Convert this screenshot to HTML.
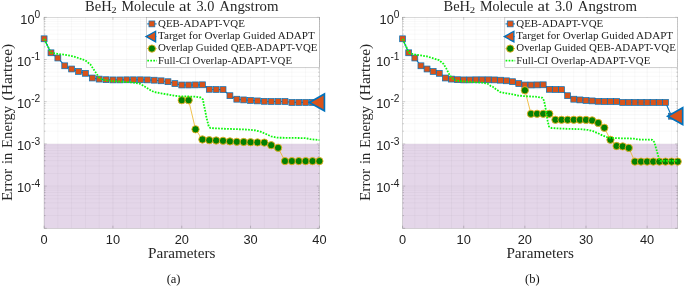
<!DOCTYPE html>
<html>
<head>
<meta charset="utf-8">
<title>BeH2 Molecule at 3.0 Angstrom</title>
<style>
html,body{margin:0;padding:0;background:#fff;}
body{width:685px;height:286px;overflow:hidden;font-family:"Liberation Sans",sans-serif;}
svg{display:block;}
text{filter:grayscale(1);}
.lg{font-family:"Liberation Serif",serif;font-size:11px;fill:#222;}
.ti{font-family:"Liberation Serif",serif;font-size:15.2px;fill:#262626;}
.ts{font-family:"Liberation Serif",serif;font-size:9.2px;fill:#262626;}
.lb{font-family:"Liberation Serif",serif;font-size:15.2px;fill:#262626;}
.tk{font-family:"Liberation Sans",sans-serif;font-size:12.8px;fill:#222;}
.cap{font-family:"Liberation Serif",serif;font-size:12.5px;fill:#111;}
</style>
</head>
<body>
<svg width="685" height="286" viewBox="0 0 685 286">
<rect width="685" height="286" fill="#fff"/>
<g id="chart-a">
<rect x="44.1" y="17.3" width="275.3" height="211" fill="#fff"/>
<rect x="44.1" y="143.9" width="275.3" height="84.4" fill="#e4d6e9"/>
<path d="M57.86 17.3V228.3M71.63 17.3V228.3M85.39 17.3V228.3M99.16 17.3V228.3M126.69 17.3V228.3M140.45 17.3V228.3M154.22 17.3V228.3M167.98 17.3V228.3M195.51 17.3V228.3M209.28 17.3V228.3M223.04 17.3V228.3M236.81 17.3V228.3M264.34 17.3V228.3M278.1 17.3V228.3M291.87 17.3V228.3M305.63 17.3V228.3M44.1 46.8H319.4M44.1 39.37H319.4M44.1 34.09H319.4M44.1 30H319.4M44.1 26.66H319.4M44.1 23.84H319.4M44.1 21.39H319.4M44.1 19.23H319.4M44.1 89H319.4M44.1 81.57H319.4M44.1 76.29H319.4M44.1 72.2H319.4M44.1 68.86H319.4M44.1 66.04H319.4M44.1 63.59H319.4M44.1 61.43H319.4M44.1 131.2H319.4M44.1 123.77H319.4M44.1 118.49H319.4M44.1 114.4H319.4M44.1 111.06H319.4M44.1 108.24H319.4M44.1 105.79H319.4M44.1 103.63H319.4M44.1 173.4H319.4M44.1 165.97H319.4M44.1 160.69H319.4M44.1 156.6H319.4M44.1 153.26H319.4M44.1 150.44H319.4M44.1 147.99H319.4M44.1 145.83H319.4M44.1 215.6H319.4M44.1 208.17H319.4M44.1 202.89H319.4M44.1 198.8H319.4M44.1 195.46H319.4M44.1 192.64H319.4M44.1 190.19H319.4M44.1 188.03H319.4" stroke="#000" stroke-opacity="0.052" stroke-width="0.6" fill="none"/>
<path d="M112.92 17.3V228.3M181.75 17.3V228.3M250.57 17.3V228.3M44.1 59.5H319.4M44.1 101.7H319.4M44.1 143.9H319.4M44.1 186.1H319.4" stroke="#000" stroke-opacity="0.07" stroke-width="0.6" fill="none"/>
<path d="M44.1 228.3v-2.6M44.1 17.3v2.6M112.92 228.3v-2.6M112.92 17.3v2.6M181.75 228.3v-2.6M181.75 17.3v2.6M250.57 228.3v-2.6M250.57 17.3v2.6M319.4 228.3v-2.6M319.4 17.3v2.6M44.1 17.3h2.6M319.4 17.3h-2.6M44.1 59.5h2.6M319.4 59.5h-2.6M44.1 101.7h2.6M319.4 101.7h-2.6M44.1 143.9h2.6M319.4 143.9h-2.6M44.1 186.1h2.6M319.4 186.1h-2.6M44.1 228.3h2.6M319.4 228.3h-2.6M44.1 46.8h1.4M319.4 46.8h-1.4M44.1 39.37h1.4M319.4 39.37h-1.4M44.1 34.09h1.4M319.4 34.09h-1.4M44.1 30h1.4M319.4 30h-1.4M44.1 26.66h1.4M319.4 26.66h-1.4M44.1 23.84h1.4M319.4 23.84h-1.4M44.1 21.39h1.4M319.4 21.39h-1.4M44.1 19.23h1.4M319.4 19.23h-1.4M44.1 89h1.4M319.4 89h-1.4M44.1 81.57h1.4M319.4 81.57h-1.4M44.1 76.29h1.4M319.4 76.29h-1.4M44.1 72.2h1.4M319.4 72.2h-1.4M44.1 68.86h1.4M319.4 68.86h-1.4M44.1 66.04h1.4M319.4 66.04h-1.4M44.1 63.59h1.4M319.4 63.59h-1.4M44.1 61.43h1.4M319.4 61.43h-1.4M44.1 131.2h1.4M319.4 131.2h-1.4M44.1 123.77h1.4M319.4 123.77h-1.4M44.1 118.49h1.4M319.4 118.49h-1.4M44.1 114.4h1.4M319.4 114.4h-1.4M44.1 111.06h1.4M319.4 111.06h-1.4M44.1 108.24h1.4M319.4 108.24h-1.4M44.1 105.79h1.4M319.4 105.79h-1.4M44.1 103.63h1.4M319.4 103.63h-1.4M44.1 173.4h1.4M319.4 173.4h-1.4M44.1 165.97h1.4M319.4 165.97h-1.4M44.1 160.69h1.4M319.4 160.69h-1.4M44.1 156.6h1.4M319.4 156.6h-1.4M44.1 153.26h1.4M319.4 153.26h-1.4M44.1 150.44h1.4M319.4 150.44h-1.4M44.1 147.99h1.4M319.4 147.99h-1.4M44.1 145.83h1.4M319.4 145.83h-1.4M44.1 215.6h1.4M319.4 215.6h-1.4M44.1 208.17h1.4M319.4 208.17h-1.4M44.1 202.89h1.4M319.4 202.89h-1.4M44.1 198.8h1.4M319.4 198.8h-1.4M44.1 195.46h1.4M319.4 195.46h-1.4M44.1 192.64h1.4M319.4 192.64h-1.4M44.1 190.19h1.4M319.4 190.19h-1.4M44.1 188.03h1.4M319.4 188.03h-1.4" stroke="#000" stroke-opacity="0.35" stroke-width="0.5" fill="none"/>
<rect x="44.1" y="17.3" width="275.3" height="211" fill="none" stroke="#000" stroke-opacity="0.25" stroke-width="0.6"/>
<polyline points="44.1,38.8 50.98,52.8 57.86,58 64.75,65.8 71.63,69 78.51,71.4 85.39,73.3 92.28,78 99.16,79.1 106.04,79.7 112.92,79.9 119.81,79.9 126.69,79.8 133.57,79.8 140.45,79.8 147.34,79.9 154.22,80.2 161.1,80.8 167.98,81.7 174.87,83.6 181.75,85 188.63,85 195.51,84.9 202.4,84.8 209.28,89.3 216.16,89.5 223.04,89.6 229.93,95.7 236.81,99.2 243.69,99.9 250.57,100.4 257.46,100.9 264.34,101.3 271.22,101.5 278.1,101.5 284.99,101.5 291.87,102.4 298.75,102.4 305.63,102.4 312.52,102.4 319.4,102.4" fill="none" stroke="#0072BD" stroke-width="1.1"/>
<rect x="41.15" y="35.85" width="5.9" height="5.9" fill="#D95319" stroke="#0072BD" stroke-width="0.7"/>
<rect x="48.03" y="49.85" width="5.9" height="5.9" fill="#D95319" stroke="#0072BD" stroke-width="0.7"/>
<rect x="54.91" y="55.05" width="5.9" height="5.9" fill="#D95319" stroke="#0072BD" stroke-width="0.7"/>
<rect x="61.8" y="62.85" width="5.9" height="5.9" fill="#D95319" stroke="#0072BD" stroke-width="0.7"/>
<rect x="68.68" y="66.05" width="5.9" height="5.9" fill="#D95319" stroke="#0072BD" stroke-width="0.7"/>
<rect x="75.56" y="68.45" width="5.9" height="5.9" fill="#D95319" stroke="#0072BD" stroke-width="0.7"/>
<rect x="82.44" y="70.35" width="5.9" height="5.9" fill="#D95319" stroke="#0072BD" stroke-width="0.7"/>
<rect x="89.33" y="75.05" width="5.9" height="5.9" fill="#D95319" stroke="#0072BD" stroke-width="0.7"/>
<rect x="96.21" y="76.15" width="5.9" height="5.9" fill="#D95319" stroke="#0072BD" stroke-width="0.7"/>
<rect x="103.09" y="76.75" width="5.9" height="5.9" fill="#D95319" stroke="#0072BD" stroke-width="0.7"/>
<rect x="109.97" y="76.95" width="5.9" height="5.9" fill="#D95319" stroke="#0072BD" stroke-width="0.7"/>
<rect x="116.86" y="76.95" width="5.9" height="5.9" fill="#D95319" stroke="#0072BD" stroke-width="0.7"/>
<rect x="123.74" y="76.85" width="5.9" height="5.9" fill="#D95319" stroke="#0072BD" stroke-width="0.7"/>
<rect x="130.62" y="76.85" width="5.9" height="5.9" fill="#D95319" stroke="#0072BD" stroke-width="0.7"/>
<rect x="137.5" y="76.85" width="5.9" height="5.9" fill="#D95319" stroke="#0072BD" stroke-width="0.7"/>
<rect x="144.39" y="76.95" width="5.9" height="5.9" fill="#D95319" stroke="#0072BD" stroke-width="0.7"/>
<rect x="151.27" y="77.25" width="5.9" height="5.9" fill="#D95319" stroke="#0072BD" stroke-width="0.7"/>
<rect x="158.15" y="77.85" width="5.9" height="5.9" fill="#D95319" stroke="#0072BD" stroke-width="0.7"/>
<rect x="165.03" y="78.75" width="5.9" height="5.9" fill="#D95319" stroke="#0072BD" stroke-width="0.7"/>
<rect x="171.92" y="80.65" width="5.9" height="5.9" fill="#D95319" stroke="#0072BD" stroke-width="0.7"/>
<rect x="178.8" y="82.05" width="5.9" height="5.9" fill="#D95319" stroke="#0072BD" stroke-width="0.7"/>
<rect x="185.68" y="82.05" width="5.9" height="5.9" fill="#D95319" stroke="#0072BD" stroke-width="0.7"/>
<rect x="192.56" y="81.95" width="5.9" height="5.9" fill="#D95319" stroke="#0072BD" stroke-width="0.7"/>
<rect x="199.45" y="81.85" width="5.9" height="5.9" fill="#D95319" stroke="#0072BD" stroke-width="0.7"/>
<rect x="206.33" y="86.35" width="5.9" height="5.9" fill="#D95319" stroke="#0072BD" stroke-width="0.7"/>
<rect x="213.21" y="86.55" width="5.9" height="5.9" fill="#D95319" stroke="#0072BD" stroke-width="0.7"/>
<rect x="220.09" y="86.65" width="5.9" height="5.9" fill="#D95319" stroke="#0072BD" stroke-width="0.7"/>
<rect x="226.98" y="92.75" width="5.9" height="5.9" fill="#D95319" stroke="#0072BD" stroke-width="0.7"/>
<rect x="233.86" y="96.25" width="5.9" height="5.9" fill="#D95319" stroke="#0072BD" stroke-width="0.7"/>
<rect x="240.74" y="96.95" width="5.9" height="5.9" fill="#D95319" stroke="#0072BD" stroke-width="0.7"/>
<rect x="247.62" y="97.45" width="5.9" height="5.9" fill="#D95319" stroke="#0072BD" stroke-width="0.7"/>
<rect x="254.51" y="97.95" width="5.9" height="5.9" fill="#D95319" stroke="#0072BD" stroke-width="0.7"/>
<rect x="261.39" y="98.35" width="5.9" height="5.9" fill="#D95319" stroke="#0072BD" stroke-width="0.7"/>
<rect x="268.27" y="98.55" width="5.9" height="5.9" fill="#D95319" stroke="#0072BD" stroke-width="0.7"/>
<rect x="275.15" y="98.55" width="5.9" height="5.9" fill="#D95319" stroke="#0072BD" stroke-width="0.7"/>
<rect x="282.04" y="98.55" width="5.9" height="5.9" fill="#D95319" stroke="#0072BD" stroke-width="0.7"/>
<rect x="288.92" y="99.45" width="5.9" height="5.9" fill="#D95319" stroke="#0072BD" stroke-width="0.7"/>
<rect x="295.8" y="99.45" width="5.9" height="5.9" fill="#D95319" stroke="#0072BD" stroke-width="0.7"/>
<rect x="302.69" y="99.45" width="5.9" height="5.9" fill="#D95319" stroke="#0072BD" stroke-width="0.7"/>
<rect x="309.57" y="99.45" width="5.9" height="5.9" fill="#D95319" stroke="#0072BD" stroke-width="0.7"/>
<rect x="316.45" y="99.45" width="5.9" height="5.9" fill="#D95319" stroke="#0072BD" stroke-width="0.7"/>
<path d="M309.4 102.4L324.4 94V110.8Z" fill="#D95319" stroke="#0072BD" stroke-width="1.7" stroke-linejoin="miter"/>
<polyline points="181.75,100.2 188.63,100.2 195.51,129.3 202.4,139.5 209.28,140.2 216.16,140.5 223.04,140.8 229.93,141.4 236.81,141.8 243.69,142 250.57,142.2 257.46,142.4 264.34,142.6 271.22,145.2 278.1,147.8 284.99,161.1 291.87,161.1 298.75,161.1 305.63,161.1 312.52,161.1 319.4,161.1" fill="none" stroke="#EDB120" stroke-width="0.8"/>
<circle cx="181.75" cy="100.2" r="3.65" fill="#038003" stroke="#EDB120" stroke-width="0.9"/>
<circle cx="188.63" cy="100.2" r="3.65" fill="#038003" stroke="#EDB120" stroke-width="0.9"/>
<circle cx="195.51" cy="129.3" r="3.65" fill="#038003" stroke="#EDB120" stroke-width="0.9"/>
<circle cx="202.4" cy="139.5" r="3.65" fill="#038003" stroke="#EDB120" stroke-width="0.9"/>
<circle cx="209.28" cy="140.2" r="3.65" fill="#038003" stroke="#EDB120" stroke-width="0.9"/>
<circle cx="216.16" cy="140.5" r="3.65" fill="#038003" stroke="#EDB120" stroke-width="0.9"/>
<circle cx="223.04" cy="140.8" r="3.65" fill="#038003" stroke="#EDB120" stroke-width="0.9"/>
<circle cx="229.93" cy="141.4" r="3.65" fill="#038003" stroke="#EDB120" stroke-width="0.9"/>
<circle cx="236.81" cy="141.8" r="3.65" fill="#038003" stroke="#EDB120" stroke-width="0.9"/>
<circle cx="243.69" cy="142" r="3.65" fill="#038003" stroke="#EDB120" stroke-width="0.9"/>
<circle cx="250.57" cy="142.2" r="3.65" fill="#038003" stroke="#EDB120" stroke-width="0.9"/>
<circle cx="257.46" cy="142.4" r="3.65" fill="#038003" stroke="#EDB120" stroke-width="0.9"/>
<circle cx="264.34" cy="142.6" r="3.65" fill="#038003" stroke="#EDB120" stroke-width="0.9"/>
<circle cx="271.22" cy="145.2" r="3.65" fill="#038003" stroke="#EDB120" stroke-width="0.9"/>
<circle cx="278.1" cy="147.8" r="3.65" fill="#038003" stroke="#EDB120" stroke-width="0.9"/>
<circle cx="284.99" cy="161.1" r="3.65" fill="#038003" stroke="#EDB120" stroke-width="0.9"/>
<circle cx="291.87" cy="161.1" r="3.65" fill="#038003" stroke="#EDB120" stroke-width="0.9"/>
<circle cx="298.75" cy="161.1" r="3.65" fill="#038003" stroke="#EDB120" stroke-width="0.9"/>
<circle cx="305.63" cy="161.1" r="3.65" fill="#038003" stroke="#EDB120" stroke-width="0.9"/>
<circle cx="312.52" cy="161.1" r="3.65" fill="#038003" stroke="#EDB120" stroke-width="0.9"/>
<circle cx="319.4" cy="161.1" r="3.65" fill="#038003" stroke="#EDB120" stroke-width="0.9"/>
<polyline points="44.1,38.8 51,52.8 57.6,53.8 64.5,54.8 71.5,56 78.4,58 85.3,60.4 90.4,64.5 95.4,72 99,77.5 102.6,79.9 112.7,81.1 126.5,82 133.5,82.6 140.4,83.9 145.4,87 150.5,90.2 154.2,92.1 161.1,93.3 168,94.5 174.7,95.8 181.6,96.4 195.3,96.6 200.6,97.5 203,99.5 203.8,104.5 205.3,111.4 206.5,117.7 207.8,122.8 208.8,126.5 210.4,128.1 222.8,128.7 235.4,129.1 248,129.6 255.5,130.4 260.6,131.7 265.6,133.8 271.2,136.4 277.7,137.7 291.6,137.9 305.4,138.1 310.5,139.2 317.4,139.9 319.4,140.1" fill="none" stroke="#0cf60c" stroke-width="1.8" stroke-dasharray="1.7 1.3" stroke-linejoin="round"/>
<rect x="146.5" y="17.3" width="172.9" height="50" fill="#fff" stroke="#000" stroke-opacity="0.3" stroke-width="0.6"/>
<path d="M147.2 23.9H156.6" stroke="#0072BD" stroke-width="1.1"/>
<rect x="148.95" y="20.95" width="5.9" height="5.9" fill="#D95319" stroke="#0072BD" stroke-width="0.7"/>
<path d="M147.9 36.6H156.3" stroke="#0072BD" stroke-width="1.1"/>
<path d="M146 36.6L155.6 31.3V41.9Z" fill="#D95319" stroke="#0072BD" stroke-width="1.3"/>
<path d="M147.2 48.6H156.6" stroke="#EDB120" stroke-width="1"/>
<circle cx="151.9" cy="48.6" r="3.65" fill="#038003" stroke="#EDB120" stroke-width="0.9"/>
<path d="M147.3 60.6H156.9" stroke="#0cf60c" stroke-width="1.8" stroke-dasharray="1.7 1.3"/>
<text x="158" y="27" class="lg" textLength="86.9" lengthAdjust="spacingAndGlyphs">QEB-ADAPT-VQE</text>
<text x="158" y="38.9" class="lg" textLength="156.8" lengthAdjust="spacingAndGlyphs">Target for Overlap Guided ADAPT</text>
<text x="158" y="51.1" class="lg" textLength="159.5" lengthAdjust="spacingAndGlyphs">Overlap Guided QEB-ADAPT-VQE</text>
<text x="158" y="63.5" class="lg" textLength="134.0" lengthAdjust="spacingAndGlyphs">Full-CI Overlap-ADAPT-VQE</text>
<text x="85.1" y="10.9" class="ti" textLength="26.5" lengthAdjust="spacingAndGlyphs">BeH</text>
<text x="111.3" y="13.1" class="ts" textLength="5.4" lengthAdjust="spacingAndGlyphs">2</text>
<text x="121.6" y="10.9" class="ti" textLength="53.2" lengthAdjust="spacingAndGlyphs">Molecule</text>
<text x="179.1" y="10.9" class="ti" textLength="12.1" lengthAdjust="spacingAndGlyphs">at</text>
<text x="196.5" y="10.9" class="ti" textLength="17.8" lengthAdjust="spacingAndGlyphs">3.0</text>
<text x="219.3" y="10.9" class="ti" textLength="59.2" lengthAdjust="spacingAndGlyphs">Angstrom</text>
<text x="44.1" y="244" class="tk" text-anchor="middle">0</text>
<text x="112.92" y="244" class="tk" text-anchor="middle">10</text>
<text x="181.75" y="244" class="tk" text-anchor="middle">20</text>
<text x="250.57" y="244" class="tk" text-anchor="middle">30</text>
<text x="319.4" y="244" class="tk" text-anchor="middle">40</text>
<text x="40.2" y="23.5" class="tk" text-anchor="end">10<tspan font-size="10.2" dy="-5.6">0</tspan></text>
<text x="40.2" y="65.7" class="tk" text-anchor="end">10<tspan font-size="10.2" dy="-5.6">-1</tspan></text>
<text x="40.2" y="107.9" class="tk" text-anchor="end">10<tspan font-size="10.2" dy="-5.6">-2</tspan></text>
<text x="40.2" y="150.1" class="tk" text-anchor="end">10<tspan font-size="10.2" dy="-5.6">-3</tspan></text>
<text x="40.2" y="192.3" class="tk" text-anchor="end">10<tspan font-size="10.2" dy="-5.6">-4</tspan></text>
<text x="148" y="258.3" class="lb" textLength="67.5" lengthAdjust="spacingAndGlyphs">Parameters</text>
<text transform="translate(11.5 201) rotate(-90)" x="0" y="0" class="lb" textLength="32.2" lengthAdjust="spacingAndGlyphs">Error</text>
<text transform="translate(11.5 163.9) rotate(-90)" x="0" y="0" class="lb" textLength="11.2" lengthAdjust="spacingAndGlyphs">in</text>
<text transform="translate(11.5 147.9) rotate(-90)" x="0" y="0" class="lb" textLength="42.1" lengthAdjust="spacingAndGlyphs">Energy</text>
<text transform="translate(11.5 100.4) rotate(-90)" x="0" y="0" class="lb" textLength="56.6" lengthAdjust="spacingAndGlyphs">(Hartree)</text>
<text x="173.6" y="282.6" class="cap" text-anchor="middle">(a)</text>
</g>
<g id="chart-b">
<rect x="402.6" y="17.3" width="275.1" height="211" fill="#fff"/>
<rect x="402.6" y="143.9" width="275.1" height="84.4" fill="#e4d6e9"/>
<path d="M414.83 17.3V228.3M427.05 17.3V228.3M439.28 17.3V228.3M451.51 17.3V228.3M475.96 17.3V228.3M488.19 17.3V228.3M500.41 17.3V228.3M512.64 17.3V228.3M537.09 17.3V228.3M549.32 17.3V228.3M561.55 17.3V228.3M573.77 17.3V228.3M598.23 17.3V228.3M610.45 17.3V228.3M622.68 17.3V228.3M634.91 17.3V228.3M659.36 17.3V228.3M671.59 17.3V228.3M402.6 46.8H677.7M402.6 39.37H677.7M402.6 34.09H677.7M402.6 30H677.7M402.6 26.66H677.7M402.6 23.84H677.7M402.6 21.39H677.7M402.6 19.23H677.7M402.6 89H677.7M402.6 81.57H677.7M402.6 76.29H677.7M402.6 72.2H677.7M402.6 68.86H677.7M402.6 66.04H677.7M402.6 63.59H677.7M402.6 61.43H677.7M402.6 131.2H677.7M402.6 123.77H677.7M402.6 118.49H677.7M402.6 114.4H677.7M402.6 111.06H677.7M402.6 108.24H677.7M402.6 105.79H677.7M402.6 103.63H677.7M402.6 173.4H677.7M402.6 165.97H677.7M402.6 160.69H677.7M402.6 156.6H677.7M402.6 153.26H677.7M402.6 150.44H677.7M402.6 147.99H677.7M402.6 145.83H677.7M402.6 215.6H677.7M402.6 208.17H677.7M402.6 202.89H677.7M402.6 198.8H677.7M402.6 195.46H677.7M402.6 192.64H677.7M402.6 190.19H677.7M402.6 188.03H677.7" stroke="#000" stroke-opacity="0.052" stroke-width="0.6" fill="none"/>
<path d="M463.73 17.3V228.3M524.87 17.3V228.3M586 17.3V228.3M647.13 17.3V228.3M402.6 59.5H677.7M402.6 101.7H677.7M402.6 143.9H677.7M402.6 186.1H677.7" stroke="#000" stroke-opacity="0.07" stroke-width="0.6" fill="none"/>
<path d="M402.6 228.3v-2.6M402.6 17.3v2.6M463.73 228.3v-2.6M463.73 17.3v2.6M524.87 228.3v-2.6M524.87 17.3v2.6M586 228.3v-2.6M586 17.3v2.6M647.13 228.3v-2.6M647.13 17.3v2.6M402.6 17.3h2.6M677.7 17.3h-2.6M402.6 59.5h2.6M677.7 59.5h-2.6M402.6 101.7h2.6M677.7 101.7h-2.6M402.6 143.9h2.6M677.7 143.9h-2.6M402.6 186.1h2.6M677.7 186.1h-2.6M402.6 228.3h2.6M677.7 228.3h-2.6M402.6 46.8h1.4M677.7 46.8h-1.4M402.6 39.37h1.4M677.7 39.37h-1.4M402.6 34.09h1.4M677.7 34.09h-1.4M402.6 30h1.4M677.7 30h-1.4M402.6 26.66h1.4M677.7 26.66h-1.4M402.6 23.84h1.4M677.7 23.84h-1.4M402.6 21.39h1.4M677.7 21.39h-1.4M402.6 19.23h1.4M677.7 19.23h-1.4M402.6 89h1.4M677.7 89h-1.4M402.6 81.57h1.4M677.7 81.57h-1.4M402.6 76.29h1.4M677.7 76.29h-1.4M402.6 72.2h1.4M677.7 72.2h-1.4M402.6 68.86h1.4M677.7 68.86h-1.4M402.6 66.04h1.4M677.7 66.04h-1.4M402.6 63.59h1.4M677.7 63.59h-1.4M402.6 61.43h1.4M677.7 61.43h-1.4M402.6 131.2h1.4M677.7 131.2h-1.4M402.6 123.77h1.4M677.7 123.77h-1.4M402.6 118.49h1.4M677.7 118.49h-1.4M402.6 114.4h1.4M677.7 114.4h-1.4M402.6 111.06h1.4M677.7 111.06h-1.4M402.6 108.24h1.4M677.7 108.24h-1.4M402.6 105.79h1.4M677.7 105.79h-1.4M402.6 103.63h1.4M677.7 103.63h-1.4M402.6 173.4h1.4M677.7 173.4h-1.4M402.6 165.97h1.4M677.7 165.97h-1.4M402.6 160.69h1.4M677.7 160.69h-1.4M402.6 156.6h1.4M677.7 156.6h-1.4M402.6 153.26h1.4M677.7 153.26h-1.4M402.6 150.44h1.4M677.7 150.44h-1.4M402.6 147.99h1.4M677.7 147.99h-1.4M402.6 145.83h1.4M677.7 145.83h-1.4M402.6 215.6h1.4M677.7 215.6h-1.4M402.6 208.17h1.4M677.7 208.17h-1.4M402.6 202.89h1.4M677.7 202.89h-1.4M402.6 198.8h1.4M677.7 198.8h-1.4M402.6 195.46h1.4M677.7 195.46h-1.4M402.6 192.64h1.4M677.7 192.64h-1.4M402.6 190.19h1.4M677.7 190.19h-1.4M402.6 188.03h1.4M677.7 188.03h-1.4" stroke="#000" stroke-opacity="0.35" stroke-width="0.5" fill="none"/>
<rect x="402.6" y="17.3" width="275.1" height="211" fill="none" stroke="#000" stroke-opacity="0.25" stroke-width="0.6"/>
<polyline points="402.6,38.8 408.71,52.8 414.83,58 420.94,65.8 427.05,69 433.17,71.4 439.28,73.3 445.39,78 451.51,79.1 457.62,79.7 463.73,79.9 469.85,79.9 475.96,79.8 482.07,79.8 488.19,79.8 494.3,79.9 500.41,80.2 506.53,80.8 512.64,81.7 518.75,83.6 524.87,85 530.98,85 537.09,84.9 543.21,84.8 549.32,89.3 555.43,89.5 561.55,89.6 567.66,95.7 573.77,99.2 579.89,99.9 586,100.4 592.11,100.9 598.23,101.3 604.34,101.5 610.45,101.5 616.57,101.5 622.68,102.4 628.79,102.4 634.91,102.4 641.02,102.4 647.13,102.4 653.25,102.4 659.36,102.4 665.47,102.4 671.59,116.2" fill="none" stroke="#0072BD" stroke-width="1.1"/>
<rect x="399.65" y="35.85" width="5.9" height="5.9" fill="#D95319" stroke="#0072BD" stroke-width="0.7"/>
<rect x="405.76" y="49.85" width="5.9" height="5.9" fill="#D95319" stroke="#0072BD" stroke-width="0.7"/>
<rect x="411.88" y="55.05" width="5.9" height="5.9" fill="#D95319" stroke="#0072BD" stroke-width="0.7"/>
<rect x="417.99" y="62.85" width="5.9" height="5.9" fill="#D95319" stroke="#0072BD" stroke-width="0.7"/>
<rect x="424.1" y="66.05" width="5.9" height="5.9" fill="#D95319" stroke="#0072BD" stroke-width="0.7"/>
<rect x="430.22" y="68.45" width="5.9" height="5.9" fill="#D95319" stroke="#0072BD" stroke-width="0.7"/>
<rect x="436.33" y="70.35" width="5.9" height="5.9" fill="#D95319" stroke="#0072BD" stroke-width="0.7"/>
<rect x="442.44" y="75.05" width="5.9" height="5.9" fill="#D95319" stroke="#0072BD" stroke-width="0.7"/>
<rect x="448.56" y="76.15" width="5.9" height="5.9" fill="#D95319" stroke="#0072BD" stroke-width="0.7"/>
<rect x="454.67" y="76.75" width="5.9" height="5.9" fill="#D95319" stroke="#0072BD" stroke-width="0.7"/>
<rect x="460.78" y="76.95" width="5.9" height="5.9" fill="#D95319" stroke="#0072BD" stroke-width="0.7"/>
<rect x="466.9" y="76.95" width="5.9" height="5.9" fill="#D95319" stroke="#0072BD" stroke-width="0.7"/>
<rect x="473.01" y="76.85" width="5.9" height="5.9" fill="#D95319" stroke="#0072BD" stroke-width="0.7"/>
<rect x="479.12" y="76.85" width="5.9" height="5.9" fill="#D95319" stroke="#0072BD" stroke-width="0.7"/>
<rect x="485.24" y="76.85" width="5.9" height="5.9" fill="#D95319" stroke="#0072BD" stroke-width="0.7"/>
<rect x="491.35" y="76.95" width="5.9" height="5.9" fill="#D95319" stroke="#0072BD" stroke-width="0.7"/>
<rect x="497.46" y="77.25" width="5.9" height="5.9" fill="#D95319" stroke="#0072BD" stroke-width="0.7"/>
<rect x="503.58" y="77.85" width="5.9" height="5.9" fill="#D95319" stroke="#0072BD" stroke-width="0.7"/>
<rect x="509.69" y="78.75" width="5.9" height="5.9" fill="#D95319" stroke="#0072BD" stroke-width="0.7"/>
<rect x="515.8" y="80.65" width="5.9" height="5.9" fill="#D95319" stroke="#0072BD" stroke-width="0.7"/>
<rect x="521.92" y="82.05" width="5.9" height="5.9" fill="#D95319" stroke="#0072BD" stroke-width="0.7"/>
<rect x="528.03" y="82.05" width="5.9" height="5.9" fill="#D95319" stroke="#0072BD" stroke-width="0.7"/>
<rect x="534.14" y="81.95" width="5.9" height="5.9" fill="#D95319" stroke="#0072BD" stroke-width="0.7"/>
<rect x="540.26" y="81.85" width="5.9" height="5.9" fill="#D95319" stroke="#0072BD" stroke-width="0.7"/>
<rect x="546.37" y="86.35" width="5.9" height="5.9" fill="#D95319" stroke="#0072BD" stroke-width="0.7"/>
<rect x="552.48" y="86.55" width="5.9" height="5.9" fill="#D95319" stroke="#0072BD" stroke-width="0.7"/>
<rect x="558.6" y="86.65" width="5.9" height="5.9" fill="#D95319" stroke="#0072BD" stroke-width="0.7"/>
<rect x="564.71" y="92.75" width="5.9" height="5.9" fill="#D95319" stroke="#0072BD" stroke-width="0.7"/>
<rect x="570.82" y="96.25" width="5.9" height="5.9" fill="#D95319" stroke="#0072BD" stroke-width="0.7"/>
<rect x="576.94" y="96.95" width="5.9" height="5.9" fill="#D95319" stroke="#0072BD" stroke-width="0.7"/>
<rect x="583.05" y="97.45" width="5.9" height="5.9" fill="#D95319" stroke="#0072BD" stroke-width="0.7"/>
<rect x="589.16" y="97.95" width="5.9" height="5.9" fill="#D95319" stroke="#0072BD" stroke-width="0.7"/>
<rect x="595.28" y="98.35" width="5.9" height="5.9" fill="#D95319" stroke="#0072BD" stroke-width="0.7"/>
<rect x="601.39" y="98.55" width="5.9" height="5.9" fill="#D95319" stroke="#0072BD" stroke-width="0.7"/>
<rect x="607.5" y="98.55" width="5.9" height="5.9" fill="#D95319" stroke="#0072BD" stroke-width="0.7"/>
<rect x="613.62" y="98.55" width="5.9" height="5.9" fill="#D95319" stroke="#0072BD" stroke-width="0.7"/>
<rect x="619.73" y="99.45" width="5.9" height="5.9" fill="#D95319" stroke="#0072BD" stroke-width="0.7"/>
<rect x="625.84" y="99.45" width="5.9" height="5.9" fill="#D95319" stroke="#0072BD" stroke-width="0.7"/>
<rect x="631.96" y="99.45" width="5.9" height="5.9" fill="#D95319" stroke="#0072BD" stroke-width="0.7"/>
<rect x="638.07" y="99.45" width="5.9" height="5.9" fill="#D95319" stroke="#0072BD" stroke-width="0.7"/>
<rect x="644.18" y="99.45" width="5.9" height="5.9" fill="#D95319" stroke="#0072BD" stroke-width="0.7"/>
<rect x="650.3" y="99.45" width="5.9" height="5.9" fill="#D95319" stroke="#0072BD" stroke-width="0.7"/>
<rect x="656.41" y="99.45" width="5.9" height="5.9" fill="#D95319" stroke="#0072BD" stroke-width="0.7"/>
<rect x="662.52" y="99.45" width="5.9" height="5.9" fill="#D95319" stroke="#0072BD" stroke-width="0.7"/>
<rect x="668.64" y="113.25" width="5.9" height="5.9" fill="#D95319" stroke="#0072BD" stroke-width="0.7"/>
<path d="M667.7 116.2L682.7 107.8V124.6Z" fill="#D95319" stroke="#0072BD" stroke-width="1.7" stroke-linejoin="miter"/>
<polyline points="524.87,90.3 530.98,113.8 537.09,113.8 543.21,113.8 549.32,113.8 555.43,119.8 561.55,119.8 567.66,119.8 573.77,119.8 579.89,119.8 586,119.9 592.11,120.4 598.23,122.9 604.34,127.8 610.45,139.8 616.57,146 622.68,146.4 628.79,147.9 634.91,161.6 641.02,161.6 647.13,161.6 653.25,161.6 659.36,161.6 665.47,161.6 671.59,161.6 677.7,161.6" fill="none" stroke="#EDB120" stroke-width="0.8"/>
<circle cx="524.87" cy="90.3" r="3.65" fill="#038003" stroke="#EDB120" stroke-width="0.9"/>
<circle cx="530.98" cy="113.8" r="3.65" fill="#038003" stroke="#EDB120" stroke-width="0.9"/>
<circle cx="537.09" cy="113.8" r="3.65" fill="#038003" stroke="#EDB120" stroke-width="0.9"/>
<circle cx="543.21" cy="113.8" r="3.65" fill="#038003" stroke="#EDB120" stroke-width="0.9"/>
<circle cx="549.32" cy="113.8" r="3.65" fill="#038003" stroke="#EDB120" stroke-width="0.9"/>
<circle cx="555.43" cy="119.8" r="3.65" fill="#038003" stroke="#EDB120" stroke-width="0.9"/>
<circle cx="561.55" cy="119.8" r="3.65" fill="#038003" stroke="#EDB120" stroke-width="0.9"/>
<circle cx="567.66" cy="119.8" r="3.65" fill="#038003" stroke="#EDB120" stroke-width="0.9"/>
<circle cx="573.77" cy="119.8" r="3.65" fill="#038003" stroke="#EDB120" stroke-width="0.9"/>
<circle cx="579.89" cy="119.8" r="3.65" fill="#038003" stroke="#EDB120" stroke-width="0.9"/>
<circle cx="586" cy="119.9" r="3.65" fill="#038003" stroke="#EDB120" stroke-width="0.9"/>
<circle cx="592.11" cy="120.4" r="3.65" fill="#038003" stroke="#EDB120" stroke-width="0.9"/>
<circle cx="598.23" cy="122.9" r="3.65" fill="#038003" stroke="#EDB120" stroke-width="0.9"/>
<circle cx="604.34" cy="127.8" r="3.65" fill="#038003" stroke="#EDB120" stroke-width="0.9"/>
<circle cx="610.45" cy="139.8" r="3.65" fill="#038003" stroke="#EDB120" stroke-width="0.9"/>
<circle cx="616.57" cy="146" r="3.65" fill="#038003" stroke="#EDB120" stroke-width="0.9"/>
<circle cx="622.68" cy="146.4" r="3.65" fill="#038003" stroke="#EDB120" stroke-width="0.9"/>
<circle cx="628.79" cy="147.9" r="3.65" fill="#038003" stroke="#EDB120" stroke-width="0.9"/>
<circle cx="634.91" cy="161.6" r="3.65" fill="#038003" stroke="#EDB120" stroke-width="0.9"/>
<circle cx="641.02" cy="161.6" r="3.65" fill="#038003" stroke="#EDB120" stroke-width="0.9"/>
<circle cx="647.13" cy="161.6" r="3.65" fill="#038003" stroke="#EDB120" stroke-width="0.9"/>
<circle cx="653.25" cy="161.6" r="3.65" fill="#038003" stroke="#EDB120" stroke-width="0.9"/>
<circle cx="659.36" cy="161.6" r="3.65" fill="#038003" stroke="#EDB120" stroke-width="0.9"/>
<circle cx="665.47" cy="161.6" r="3.65" fill="#038003" stroke="#EDB120" stroke-width="0.9"/>
<circle cx="671.59" cy="161.6" r="3.65" fill="#038003" stroke="#EDB120" stroke-width="0.9"/>
<circle cx="677.7" cy="161.6" r="3.65" fill="#038003" stroke="#EDB120" stroke-width="0.9"/>
<polyline points="402.6,38.8 409,52.9 415,54.6 421,55.4 427,56.4 433.3,58.3 438.9,60.1 443.4,63.8 446.5,68.9 449,73.9 451.6,77.9 456.6,80.8 464.2,81.4 475.5,82.3 482,82.7 485.6,83.3 488.2,84 490.6,85.9 492.6,86.6 496,89.3 500.2,92.1 506.4,93.3 512.7,94.3 517.8,95.5 524.8,96.2 536.9,96.8 542.2,97.7 544,100.6 545.2,106.3 546.4,113 547.7,121 548.9,126.4 551.4,128 561.5,128.6 580.4,129.2 587.9,129.9 593,131.2 598,133.3 603,135.7 608.1,137.6 613.9,138.1 634,138.6 637.8,139.5 652.3,139.8 654.2,142 655.5,146.4 656.7,150.4 658,155.3 659,159 660.3,160.9 677.7,160.9" fill="none" stroke="#0cf60c" stroke-width="1.8" stroke-dasharray="1.7 1.3" stroke-linejoin="round"/>
<rect x="504.8" y="17.3" width="172.9" height="50" fill="#fff" stroke="#000" stroke-opacity="0.3" stroke-width="0.6"/>
<path d="M505.5 23.9H514.9" stroke="#0072BD" stroke-width="1.1"/>
<rect x="507.25" y="20.95" width="5.9" height="5.9" fill="#D95319" stroke="#0072BD" stroke-width="0.7"/>
<path d="M506.2 36.6H514.6" stroke="#0072BD" stroke-width="1.1"/>
<path d="M504.3 36.6L513.9 31.3V41.9Z" fill="#D95319" stroke="#0072BD" stroke-width="1.3"/>
<path d="M505.5 48.6H514.9" stroke="#EDB120" stroke-width="1"/>
<circle cx="510.2" cy="48.6" r="3.65" fill="#038003" stroke="#EDB120" stroke-width="0.9"/>
<path d="M505.6 60.6H515.2" stroke="#0cf60c" stroke-width="1.8" stroke-dasharray="1.7 1.3"/>
<text x="516.3" y="27" class="lg" textLength="86.9" lengthAdjust="spacingAndGlyphs">QEB-ADAPT-VQE</text>
<text x="516.3" y="38.9" class="lg" textLength="156.8" lengthAdjust="spacingAndGlyphs">Target for Overlap Guided ADAPT</text>
<text x="516.3" y="51.1" class="lg" textLength="159.5" lengthAdjust="spacingAndGlyphs">Overlap Guided QEB-ADAPT-VQE</text>
<text x="516.3" y="63.5" class="lg" textLength="134.0" lengthAdjust="spacingAndGlyphs">Full-CI Overlap-ADAPT-VQE</text>
<text x="443.5" y="10.9" class="ti" textLength="26.5" lengthAdjust="spacingAndGlyphs">BeH</text>
<text x="469.7" y="13.1" class="ts" textLength="5.4" lengthAdjust="spacingAndGlyphs">2</text>
<text x="480" y="10.9" class="ti" textLength="53.2" lengthAdjust="spacingAndGlyphs">Molecule</text>
<text x="537.5" y="10.9" class="ti" textLength="12.1" lengthAdjust="spacingAndGlyphs">at</text>
<text x="554.9" y="10.9" class="ti" textLength="17.8" lengthAdjust="spacingAndGlyphs">3.0</text>
<text x="577.7" y="10.9" class="ti" textLength="59.2" lengthAdjust="spacingAndGlyphs">Angstrom</text>
<text x="402.6" y="244" class="tk" text-anchor="middle">0</text>
<text x="463.73" y="244" class="tk" text-anchor="middle">10</text>
<text x="524.87" y="244" class="tk" text-anchor="middle">20</text>
<text x="586" y="244" class="tk" text-anchor="middle">30</text>
<text x="647.13" y="244" class="tk" text-anchor="middle">40</text>
<text x="399.5" y="23.5" class="tk" text-anchor="end">10<tspan font-size="10.2" dy="-5.6">0</tspan></text>
<text x="399.5" y="65.7" class="tk" text-anchor="end">10<tspan font-size="10.2" dy="-5.6">-1</tspan></text>
<text x="399.5" y="107.9" class="tk" text-anchor="end">10<tspan font-size="10.2" dy="-5.6">-2</tspan></text>
<text x="399.5" y="150.1" class="tk" text-anchor="end">10<tspan font-size="10.2" dy="-5.6">-3</tspan></text>
<text x="399.5" y="192.3" class="tk" text-anchor="end">10<tspan font-size="10.2" dy="-5.6">-4</tspan></text>
<text x="506.4" y="258.3" class="lb" textLength="67.5" lengthAdjust="spacingAndGlyphs">Parameters</text>
<text transform="translate(370 201) rotate(-90)" x="0" y="0" class="lb" textLength="32.2" lengthAdjust="spacingAndGlyphs">Error</text>
<text transform="translate(370 163.9) rotate(-90)" x="0" y="0" class="lb" textLength="11.2" lengthAdjust="spacingAndGlyphs">in</text>
<text transform="translate(370 147.9) rotate(-90)" x="0" y="0" class="lb" textLength="42.1" lengthAdjust="spacingAndGlyphs">Energy</text>
<text transform="translate(370 100.4) rotate(-90)" x="0" y="0" class="lb" textLength="56.6" lengthAdjust="spacingAndGlyphs">(Hartree)</text>
<text x="532.4" y="282.6" class="cap" text-anchor="middle">(b)</text>
</g>
</svg>
</body>
</html>
